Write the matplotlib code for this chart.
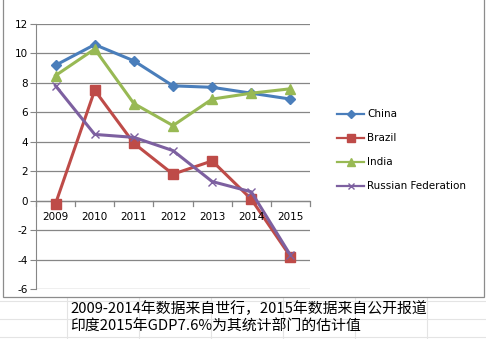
import numpy as np
import matplotlib.pyplot as plt
from matplotlib.patches import Rectangle
from matplotlib.lines import Line2D

plt.rcParams['axes.unicode_minus'] = False

years = ['2009', '2010', '2011', '2012', '2013', '2014', '2015']
china = [9.2, 10.6, 9.5, 7.8, 7.7, 7.3, 6.9]
brazil = [-0.2, 7.5, 3.9, 1.8, 2.7, 0.1, -3.8]
india = [8.5, 10.3, 6.6, 5.1, 6.9, 7.3, 7.6]
russia = [7.8, 4.5, 4.3, 3.4, 1.3, 0.6, -3.7]
note_lines = ['2009-2014年数据来自世行，2015年数据来自公开报道',
              '印度2015年GDP7.6%为其统计部门的估计值']

W, H = 486, 339
fig = plt.figure(figsize=(W / 100, H / 100), dpi=100)

# excel sheet cell grid in the background
for xc in [67, 139, 211, 283, 355, 427]:
    fig.add_artist(Line2D([xc / W, xc / W], [0, 1], color='#e4e4e4', lw=0.8, zorder=0))
for yc in [300.5, 318.5, 337]:
    fig.add_artist(Line2D([0, 1], [1 - yc / H, 1 - yc / H], color='#e4e4e4', lw=0.8, zorder=0))

# chart area
fig.add_artist(Rectangle((3 / W, 1 - 297 / H), 481 / W, 300 / H, facecolor='white',
                         edgecolor='#8c8c8c', lw=0.9, zorder=1))

ax = fig.add_axes([36 / W, 1 - 289 / H, 274 / W, 265 / H], zorder=2)
ax.set_facecolor('none')
x = np.arange(len(years))

ax.plot(x, china, color='#4a7ebb', lw=2.2, marker='D', ms=5.5, label='China')
ax.plot(x, brazil, color='#be4b48', lw=2.2, marker='s', ms=7, label='Brazil')
ax.plot(x, india, color='#98b954', lw=2.2, marker='^', ms=7, label='India')
ax.plot(x, russia, color='#7d60a0', lw=2.2, marker='x', ms=6, mew=1.0, label='Russian Federation')

ax.set_xlim(-0.5, 6.5)
ax.set_ylim(-6, 12)
ax.set_yticks(range(-6, 13, 2))
ax.yaxis.grid(True, color='#868686', lw=0.9)
ax.set_axisbelow(True)
for s in ['top', 'right', 'bottom']:
    ax.spines[s].set_visible(False)
ax.spines['left'].set_color('#868686')
ax.tick_params(axis='y', length=4, color='#868686', labelsize=7.5, pad=2)

# category axis crossing at zero
ax.axhline(0, color='#868686', lw=0.9, zorder=1)
ax.set_xticks([])
for b in np.arange(-0.5, 7, 1):
    ax.plot([b, b], [0, -0.33], color='#868686', lw=0.9, clip_on=False, zorder=1)
for i, yr in enumerate(years):
    ax.text(i, -0.75, yr, ha='center', va='top', fontsize=7.5)

leg = ax.legend(loc='upper left', bbox_to_anchor=(333 / W, 1 - 105 / H), bbox_transform=fig.transFigure,
                frameon=False, fontsize=7.5, handlelength=2.6, labelspacing=1.35, handletextpad=0.3,
                borderaxespad=0, markerscale=0.8)
for h in leg.get_lines():
    h.set_linewidth(1.6)

for i, t in enumerate(note_lines):
    fig.text(70 / W, 1 - (309 + 18 * i) / H, t, ha='left', va='center', fontsize=10.7,
             family=['Noto Sans CJK SC', 'DejaVu Sans'])

fig.savefig('out.png', dpi=100)
